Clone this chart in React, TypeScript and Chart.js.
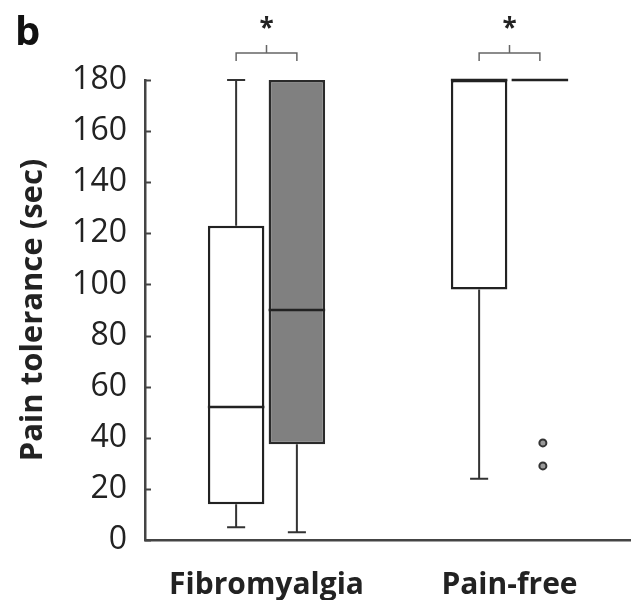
import React, { useEffect, useRef } from 'react';
import { Chart, registerables } from 'chart.js';

Chart.register(...registerables);

const categories = ['Fibromyalgia', 'Pain-free'];
const yMin = 0;
const yMax = 180;
const yStep = 20;

// white boxes (first condition)
const whiteMin = [5, 24];
const whiteQ1 = [14, 98];
const whiteMedian = [52, 180];
const whiteQ3 = [123, 180];
const whiteMax = [180, 180];
const whiteOutliers: number[][] = [[], []];

// grey boxes (second condition)
const greyMin = [3, 180];
const greyQ1 = [37.5, 180];
const greyMedian = [90, 180];
const greyQ3 = [180, 180];
const greyMax = [180, 180];
const greyOutliers: number[][] = [[], [38, 29]];

const significance = ['*', '*'];
const panelLabel = 'b';
const yTitle = 'Pain tolerance (sec)';

const FONT = '"Open Sans", "DejaVu Sans", sans-serif';
const INK = '#222222';

const boxStats = [
  { min: whiteMin, q1: whiteQ1, med: whiteMedian, q3: whiteQ3, max: whiteMax, out: whiteOutliers },
  { min: greyMin, q1: greyQ1, med: greyMedian, q3: greyQ3, max: greyMax, out: greyOutliers },
];

const boxPlugin = {
  id: 'boxDecor',
  afterDatasetsDraw(chart: any) {
    const ctx = chart.ctx as CanvasRenderingContext2D;
    const ys = chart.scales.y;
    const area = chart.chartArea;
    ctx.save();
    // inward y ticks
    ctx.strokeStyle = '#444';
    ctx.lineWidth = 2;
    for (let v = yMin; v <= yMax; v += yStep) {
      const py = Math.round(ys.getPixelForValue(v)) + 0.5;
      ctx.beginPath();
      ctx.moveTo(area.left, py);
      ctx.lineTo(area.left + 6, py);
      ctx.stroke();
    }
    boxStats.forEach((s, d) => {
      const meta = chart.getDatasetMeta(d);
      meta.data.forEach((bar: any, j: number) => {
        const cx = bar.x;
        const w = bar.width;
        const cap = w * 0.16;
        ctx.strokeStyle = '#333';
        ctx.lineWidth = 2;
        const whisker = (from: number, to: number) => {
          if (from === to) return;
          const p1 = ys.getPixelForValue(from);
          const p2 = ys.getPixelForValue(to);
          ctx.beginPath();
          ctx.moveTo(cx, p1);
          ctx.lineTo(cx, p2);
          ctx.moveTo(cx - cap, p2);
          ctx.lineTo(cx + cap, p2);
          ctx.stroke();
        };
        whisker(s.q3[j], s.max[j]);
        whisker(s.q1[j], s.min[j]);
        // median
        ctx.lineWidth = 2.5;
        ctx.strokeStyle = '#222';
        const pm = ys.getPixelForValue(s.med[j]);
        ctx.beginPath();
        ctx.moveTo(cx - w / 2, pm);
        ctx.lineTo(cx + w / 2, pm);
        ctx.stroke();
        // outliers
        s.out[j].forEach((v) => {
          const po = ys.getPixelForValue(v);
          ctx.beginPath();
          ctx.arc(cx + 3, po, 3.5, 0, Math.PI * 2);
          ctx.fillStyle = '#999';
          ctx.fill();
          ctx.lineWidth = 2;
          ctx.strokeStyle = '#333';
          ctx.stroke();
        });
      });
    });
    // significance brackets
    const m0 = chart.getDatasetMeta(0);
    const m1 = chart.getDatasetMeta(1);
    categories.forEach((_, j) => {
      const x1 = m0.data[j].x;
      const x2 = m1.data[j].x;
      const xm = (x1 + x2) / 2;
      const top = area.top;
      ctx.strokeStyle = '#666';
      ctx.lineWidth = 1.5;
      ctx.beginPath();
      ctx.moveTo(x1, top - 19);
      ctx.lineTo(x1, top - 27);
      ctx.lineTo(x2, top - 27);
      ctx.lineTo(x2, top - 19);
      ctx.moveTo(xm, top - 27);
      ctx.lineTo(xm, top - 35);
      ctx.stroke();
      ctx.fillStyle = INK;
      ctx.font = `bold 26px ${FONT}`;
      ctx.textAlign = 'center';
      ctx.textBaseline = 'middle';
      ctx.fillText(significance[j], xm, top - 50);
    });
    // panel label
    ctx.fillStyle = '#111';
    ctx.font = `bold 40px ${FONT}`;
    ctx.textAlign = 'left';
    ctx.textBaseline = 'alphabetic';
    ctx.fillText(panelLabel, 15, 45);
    ctx.restore();
  },
};

export default function App() {
  const ref = useRef<HTMLCanvasElement>(null);
  useEffect(() => {
    if (!ref.current) return;
    const chart = new Chart(ref.current, {
      type: 'bar',
      data: {
        labels: categories,
        datasets: [
          {
            label: 'white',
            data: categories.map((_, j) => [whiteQ1[j], whiteQ3[j]]) as any,
            backgroundColor: '#ffffff',
            borderColor: '#222',
            borderWidth: 2.5,
            borderSkipped: false,
            barPercentage: 0.93,
            categoryPercentage: 0.5,
          },
          {
            label: 'grey',
            data: categories.map((_, j) => [greyQ1[j], greyQ3[j]]) as any,
            backgroundColor: '#808080',
            borderColor: '#2a2a2a',
            borderWidth: 2.5,
            borderSkipped: false,
            barPercentage: 0.93,
            categoryPercentage: 0.5,
          },
        ],
      },
      options: {
        responsive: false,
        animation: false,
        layout: { padding: { top: 80, left: 0, right: 0, bottom: 0 } },
        plugins: { legend: { display: false }, tooltip: { enabled: false } },
        scales: {
          x: {
            grid: { display: false, drawTicks: false },
            border: { display: true, color: '#444', width: 2.5 },
            ticks: {
              color: INK,
              padding: 27,
              font: { family: FONT, size: 30, weight: 'bold' },
            },
            afterFit: (scale: any) => {
              scale.height = 60;
            },
          },
          y: {
            min: yMin,
            max: yMax,
            grid: { display: false, drawTicks: false },
            border: { display: true, color: '#444', width: 2.5 },
            ticks: {
              stepSize: yStep,
              color: INK,
              padding: 18,
              font: { family: FONT, size: 32 },
            },
            title: {
              display: true,
              text: yTitle,
              color: INK,
              font: { family: FONT, size: 31, weight: 'bold' },
              padding: { top: 15, bottom: 0 },
            },
            afterFit: (scale: any) => {
              scale.width = 145;
            },
          },
        },
      },
      plugins: [boxPlugin],
    });
    return () => chart.destroy();
  }, []);
  return (
    <div style={{ position: 'fixed', left: 0, top: 0, width: 631, height: 600, background: '#fff' }}>
      <canvas ref={ref} width={631} height={600} style={{ width: 631, height: 600 }} />
    </div>
  );
}
